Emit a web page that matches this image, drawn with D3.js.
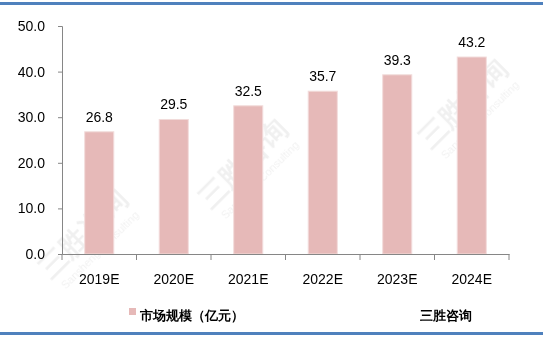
<!DOCTYPE html>
<html>
<head>
<meta charset="utf-8">
<script src="https://cdn.jsdelivr.net/npm/d3@7"></script>
<style>
  body { margin: 0; background: #fff; }
  text { font-family: "Liberation Sans", "DejaVu Sans", sans-serif; }
</style>
</head>
<body>
<svg id="chart" width="543" height="337"></svg>
<script>
const years = ["2019E", "2020E", "2021E", "2022E", "2023E", "2024E"];
const marketSize = [26.8, 29.5, 32.5, 35.7, 39.3, 43.2];
const yTicks = [0, 10, 20, 30, 40, 50];
const legendLabel = "市场规模（亿元）";
const sourceLabel = "三胜咨询";

const svg = d3.select("#chart");
const W = 543, H = 337;

// watermark (faint)
const wm = svg.append("g").attr("fill", "#000").attr("opacity", 0.06);
[[250, 170], [470, 110], [90, 240]].forEach(([x, y]) => {
    const g = wm.append("g").attr("transform", `translate(${x},${y}) rotate(-45)`);
    g.append("text").attr("text-anchor", "middle").attr("font-size", 28).attr("font-weight", "bold")
        .attr("font-family", "Noto Sans CJK SC").text("三胜咨询");
    g.append("text").attr("text-anchor", "middle").attr("y", 18).attr("font-size", 11)
        .attr("font-family", "Liberation Serif").text("Sansheng Consulting");
});

// frame lines
svg.append("rect").attr("x", 0).attr("y", 2).attr("width", W).attr("height", 3).attr("fill", "#4f81bd");
svg.append("rect").attr("x", 0).attr("y", 332).attr("width", W).attr("height", 3).attr("fill", "#4f81bd");

const x = d3.scaleBand().domain(years).range([62, 509]).paddingInner(0.61).paddingOuter(0.305);
const y = d3.scaleLinear().domain([0, 50]).range([254, 26]);

// bars
svg.selectAll("rect.bar")
    .data(marketSize)
    .enter()
    .append("rect")
    .attr("class", "bar")
    .attr("x", (d, i) => x(years[i]))
    .attr("y", d => y(d))
    .attr("width", x.bandwidth())
    .attr("height", d => y(0) - y(d))
    .attr("fill", "#e6b9b8")
    .attr("stroke", "#f2dcdb")
    .attr("stroke-width", 1);

// value labels
svg.selectAll("text.val")
    .data(marketSize)
    .enter()
    .append("text")
    .attr("class", "val")
    .attr("x", (d, i) => x(years[i]) + x.bandwidth() / 2)
    .attr("y", d => y(d) - 10)
    .attr("text-anchor", "middle")
    .attr("font-size", 14)
    .attr("fill", "#000")
    .text(d => d.toFixed(1));

// y axis
const yAxis = d3.axisLeft(y).tickValues(yTicks).tickSize(4).tickFormat(d => d.toFixed(1));
const gy = svg.append("g").attr("transform", "translate(62,0)").call(yAxis);
gy.select(".domain").attr("stroke", "#868686");
gy.selectAll(".tick line").attr("stroke", "#868686");
gy.selectAll(".tick text").attr("font-size", 14).attr("fill", "#000").attr("x", -17)
    .attr("font-family", "Liberation Sans");

// x axis
const xAxis = d3.axisBottom(x).tickSize(0).tickSizeOuter(0);
const gx = svg.append("g").attr("transform", "translate(0,254)").call(xAxis);
gx.select(".domain").attr("stroke", "#868686");
gx.selectAll(".tick text").attr("font-size", 14).attr("fill", "#000").attr("dy", 0).attr("y", 30)
    .attr("font-family", "Liberation Sans");
// category boundary ticks
const edges = years.map(d => x(d) - x.step() * x.paddingInner() / 2).concat([509]);
edges[0] = 62;
gx.selectAll("line.edge").data(edges).enter().append("line")
    .attr("x1", d => d).attr("x2", d => d).attr("y1", 0).attr("y2", 6)
    .attr("stroke", "#868686");

// legend
svg.append("rect").attr("x", 129).attr("y", 308).attr("width", 7).attr("height", 7).attr("fill", "#e6b9b8");
svg.append("text").attr("x", 140).attr("y", 320).attr("font-size", 13).attr("font-weight", "bold")
    .attr("font-family", "Noto Sans CJK SC").text(legendLabel);
svg.append("text").attr("x", 420).attr("y", 320).attr("font-size", 13).attr("font-weight", "bold")
    .attr("font-family", "Noto Sans CJK SC").text(sourceLabel);
</script>
</body>
</html>
